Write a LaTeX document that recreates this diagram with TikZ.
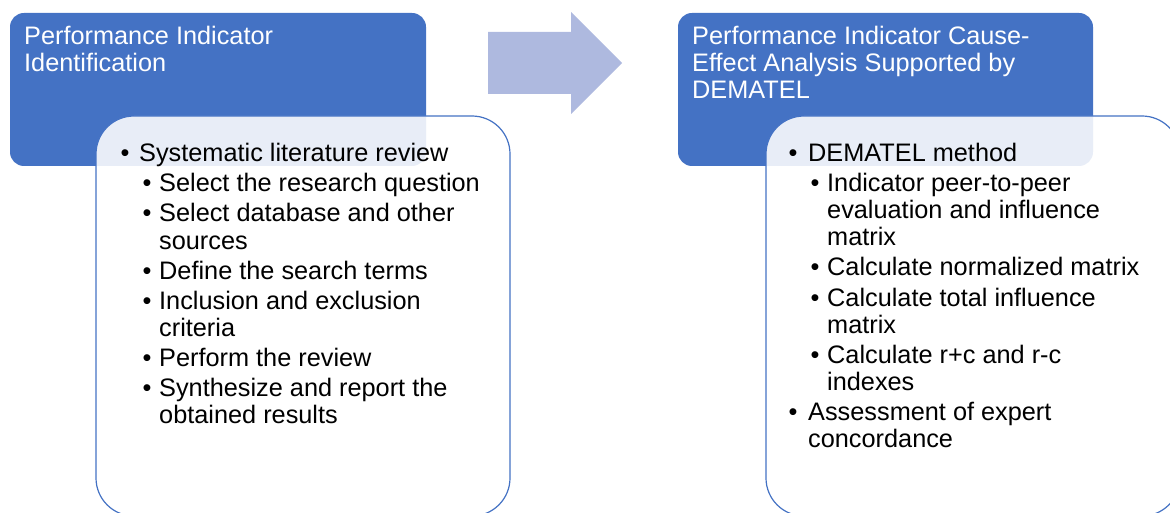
\documentclass[tikz,border=0pt]{standalone}
\usepackage{fontspec}
\setmainfont{Liberation Sans}
\definecolor{hdrblue}{HTML}{4472C4}
\definecolor{arrowblue}{RGB}{174,185,223}
\begin{document}
\begin{tikzpicture}[x=1pt,y=-1pt,
  txt/.style={anchor=base west, inner sep=0pt, font=\fontsize{25.3}{27}\selectfont},
  hdr/.style={txt, text=white},
  bul/.style={anchor=base, inner sep=0pt, font=\fontsize{25.3}{27}\selectfont},
  hdrbox/.style={fill=hdrblue, draw=none, rounded corners=14pt},
  listbox/.style={draw=hdrblue, line width=1.2pt, fill=white, fill opacity=0.88, rounded corners=38pt}]
\useasboundingbox (0,0) rectangle (1170,513);
\clip (0,0) rectangle (1170,513);
% header boxes
\path[hdrbox] (10,13) rectangle (426,166);
\path[hdrbox] (678,13) rectangle (1093,166);
% arrow
\fill[arrowblue] (488,32) -- (571,32) -- (571,12) -- (622,63) -- (571,114) -- (571,94) -- (488,94) -- cycle;
% list boxes
\path[listbox] (96,116) rectangle (510,516);
\path[listbox] (766,116) rectangle (1180,516);
% header texts
\node[hdr] (lh1) at (24,45) {Performance Indicator};
\node[hdr] (lh2) at (24,72) {Identification};
\node[hdr] (rh1) at (692,45) {Performance Indicator Cause-};
\node[hdr] (rh2) at (692,72) {Effect Analysis Supported by};
\node[hdr] (rh3) at (692,99) {DEMATEL};
% left list
\node[bul] (lb1) at (125,162) {•};
\node[txt] (lt1) at (139,162) {Systematic literature review};
\node[bul] (lb2) at (147,192) {•};
\node[txt] (lt2) at (159,192) {Select the research question};
\node[bul] (lb3) at (147,222) {•};
\node[txt] (lt3) at (159,222) {Select database and other};
\node[txt] (lt3b) at (159,249) {sources};
\node[bul] (lb4) at (147,279) {•};
\node[txt] (lt4) at (159,279) {Define the search terms};
\node[bul] (lb5) at (147,309) {•};
\node[txt] (lt5) at (159,309) {Inclusion and exclusion};
\node[txt] (lt5b) at (159,336) {criteria};
\node[bul] (lb6) at (147,366) {•};
\node[txt] (lt6) at (159,366) {Perform the review};
\node[bul] (lb7) at (147,396) {•};
\node[txt] (lt7) at (159,396) {Synthesize and report the};
\node[txt] (lt7b) at (159,423) {obtained results};
% right list
\node[bul] (rb1) at (793,162) {•};
\node[txt] (rt1) at (808,162) {DEMATEL method};
\node[bul] (rb2) at (815,192) {•};
\node[txt] (rt2) at (827,192) {Indicator peer-to-peer};
\node[txt] (rt2b) at (827,219) {evaluation and influence};
\node[txt] (rt2c) at (827,246) {matrix};
\node[bul] (rb3) at (815,276) {•};
\node[txt] (rt3) at (827,276) {Calculate normalized matrix};
\node[bul] (rb4) at (815,306) {•};
\node[txt] (rt4) at (827,306) {Calculate total influence};
\node[txt] (rt4b) at (827,333) {matrix};
\node[bul] (rb5) at (815,363) {•};
\node[txt] (rt5) at (827,363) {Calculate r+c and r-c};
\node[txt] (rt5b) at (827,390) {indexes};
\node[bul] (rb6) at (793,420) {•};
\node[txt] (rt6) at (808,420) {Assessment of expert};
\node[txt] (rt6b) at (808,447) {concordance};
\end{tikzpicture}
\end{document}
